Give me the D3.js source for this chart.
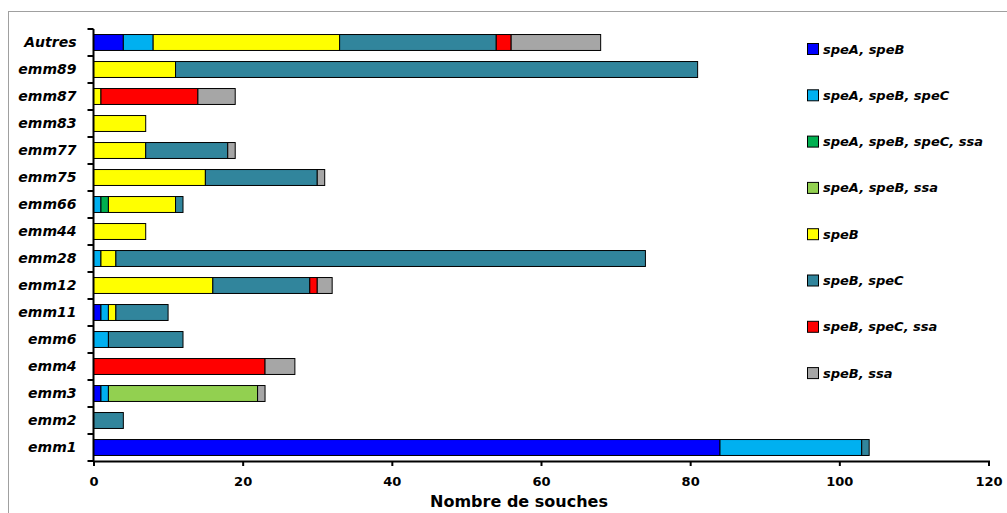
<!DOCTYPE html>
<html><head><meta charset="utf-8">
<script src="https://cdn.jsdelivr.net/npm/d3@7"></script>
<style>body{margin:0;background:#fff}svg{display:block}text{font-family:"DejaVu Sans",sans-serif}</style>
</head><body><svg id="c" width="1007" height="513"></svg>
<script>
const categories = ["Autres","emm89","emm87","emm83","emm77","emm75","emm66","emm44","emm28","emm12","emm11","emm6","emm4","emm3","emm2","emm1"];
const seriesNames = ["speA, speB","speA, speB, speC","speA, speB, speC, ssa","speA, speB, ssa","speB","speB, speC","speB, speC, ssa","speB, ssa"];
const seriesColors = ["#0000FF","#00B0F0","#00B050","#92D050","#FFFF00","#31859C","#FF0000","#A6A6A6"];
// values per series, in category order
const sAB     = [4,0,0,0,0,0,0,0,0,0,1,0,0,1,0,84];
const sABC    = [4,0,0,0,0,0,1,0,1,0,1,2,0,1,0,19];
const sABCssa = [0,0,0,0,0,0,1,0,0,0,0,0,0,0,0,0];
const sABssa  = [0,0,0,0,0,0,0,0,0,0,0,0,0,20,0,0];
const sB      = [25,11,1,7,7,15,9,7,2,16,1,0,0,0,0,0];
const sBC     = [21,70,0,0,11,15,1,0,71,13,7,10,0,0,4,1];
const sBCssa  = [2,0,13,0,0,0,0,0,0,1,0,0,23,0,0,0];
const sBssa   = [12,0,5,0,1,1,0,0,0,2,0,0,4,1,0,0];
const xTicks = [0,20,40,60,80,100,120];
const xTitle = "Nombre de souches";

const series = [sAB,sABC,sABCssa,sABssa,sB,sBC,sBCssa,sBssa];
const rows = categories.map((c,i)=>{const o={cat:c}; seriesNames.forEach((n,j)=>o[n]=series[j][i]); return o;});
const stacked = d3.stack().keys(seriesNames)(rows);

const svg = d3.select("#c");
svg.append("rect").attr("x",8.5).attr("y",11.5).attr("width",1010).attr("height",520)
  .attr("fill","none").attr("stroke","#a0a0a0");

const x = d3.scaleLinear().domain([0,120]).range([93.5,988.5]);
const y = d3.scaleBand().domain(categories).range([29,461]).paddingInner(0.41).paddingOuter(0.205);

const g = svg.append("g");
stacked.forEach((s,j)=>{
  g.selectAll(null).data(s.filter(d=>d[1]-d[0]>0)).enter().append("rect")
   .attr("x",d=>x(d[0])).attr("y",d=>y(d.data.cat))
   .attr("width",d=>x(d[1])-x(d[0])).attr("height",y.bandwidth())
   .attr("fill",seriesColors[j]).attr("stroke","#000").attr("stroke-width",1);
});

// x axis
const xa = svg.append("g").attr("transform","translate(0,461)")
  .call(d3.axisBottom(x).tickValues(xTicks).tickSize(5).tickPadding(11));
xa.select(".domain").attr("stroke","#000").attr("stroke-width",2);
xa.selectAll(".tick line").attr("stroke","#000").attr("stroke-width",2);
xa.selectAll(".tick text").attr("font-size",13).attr("font-weight","bold").attr("fill","#000")
  .attr("font-family","'DejaVu Sans',sans-serif");

// y axis with ticks at band boundaries
const ya = svg.append("g").attr("transform","translate(93.5,0)");
ya.append("line").attr("x1",0).attr("x2",0).attr("y1",29).attr("y2",461).attr("stroke","#000").attr("stroke-width",2);
const step = y.step();
d3.range(categories.length+1).forEach(i=>{
  const yy = 29 + i*step;
  ya.append("line").attr("x1",-6).attr("x2",0).attr("y1",yy).attr("y2",yy).attr("stroke","#000").attr("stroke-width",2);
});
ya.selectAll(null).data(categories).enter().append("text")
  .attr("x",-17).attr("y",d=>y(d)+y.bandwidth()/2).attr("dy","0.35em")
  .attr("text-anchor","end").attr("font-size",14).attr("font-weight","bold").attr("font-style","italic")
  .attr("fill","#000").text(d=>d);

svg.append("text").attr("x",519).attr("y",507).attr("text-anchor","middle")
  .attr("font-size",16).attr("font-weight","bold").attr("fill","#000").text(xTitle);

// legend
const lg = svg.append("g");
seriesNames.forEach((n,j)=>{
  const yy = 49 + j*46.3;
  lg.append("rect").attr("x",807.5).attr("y",yy-5.5).attr("width",11).attr("height",11)
    .attr("fill",seriesColors[j]).attr("stroke","#000").attr("stroke-width",1);
  lg.append("text").attr("x",823).attr("y",yy).attr("dy","0.35em").attr("font-size",13)
    .attr("font-weight","bold").attr("font-style","italic").attr("fill","#000").text(n);
});
</script></body></html>
